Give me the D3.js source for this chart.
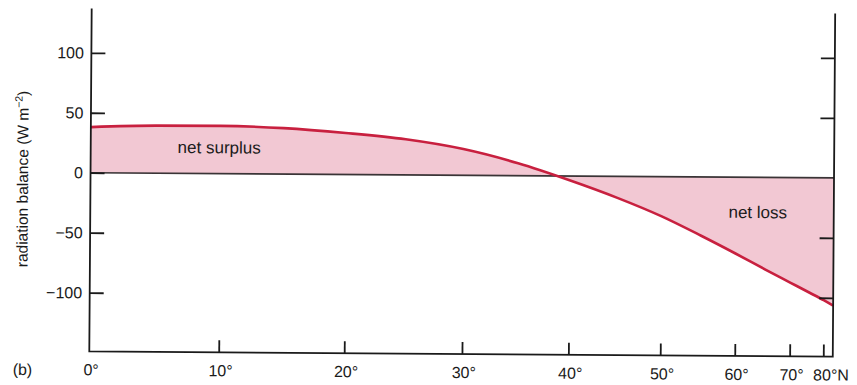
<!DOCTYPE html>
<html>
<head>
<meta charset="utf-8">
<script src="https://cdn.jsdelivr.net/npm/d3@7"></script>
<style>
  html, body { margin: 0; padding: 0; background: #fff; }
  svg { display: block; font-family: "Liberation Sans", Arial, Helvetica, sans-serif; }
</style>
</head>
<body>
<svg id="chart" width="857" height="385"></svg>
<script>
// Latitude (degrees north) and zonal-mean net radiation balance (W m-2)
const latitudes = [0, 5, 10, 15, 20, 25, 30, 35, 40, 45, 50, 55, 60, 65, 70, 75, 80, 86];
const balance   = [38, 39.6, 39.8, 38.3, 34.6, 29.7, 21.9, 10.4, -3.5, -17.9, -32.9, -48.8, -63.6, -76.8, -87.5, -95.9, -102, -106.5];

const xTickValues = [0, 10, 20, 30, 40, 50, 60, 70, 80];
const xTickLabels = ["0°", "10°", "20°", "30°", "40°", "50°", "60°", "70°", "80°N"];
const yTickValues = [100, 50, 0, -50, -100];
const yTickLabels = ["100", "50", "0", "\u221250", "\u2212100"];

const maxLat = 86;
const yDomain = [-149, 137];

const svg = d3.select("#chart");
const g = svg.append("g").attr("transform", "rotate(0.4, 462, 180)");

// Horizontal axis is area-weighted: position proportional to sin(latitude)
const rad = d => d * Math.PI / 180;
const xs = d3.scaleLinear().domain([0, Math.sin(rad(maxLat))]).range([90.5, 834]);
const x = lat => xs(Math.sin(rad(lat)));
const y = d3.scaleLinear().domain(yDomain).range([354, 11]);

const pts = latitudes.map((lat, i) => ({ lat, v: balance[i] }));

// Shaded surplus / deficit between the curve and zero
const area = d3.area()
  .x(d => x(d.lat))
  .y0(y(0))
  .y1(d => y(d.v))
  .curve(d3.curveMonotoneX);

g.append("path")
  .datum(pts)
  .attr("d", area)
  .attr("fill", "#f2c8d3");

// Zero line
g.append("line")
  .attr("x1", x(0)).attr("x2", x(maxLat))
  .attr("y1", y(0)).attr("y2", y(0))
  .attr("stroke", "#3a3436").attr("stroke-width", 1.6);

// Balance curve
const line = d3.line()
  .x(d => x(d.lat))
  .y(d => y(d.v))
  .curve(d3.curveMonotoneX);

g.append("path")
  .datum(pts)
  .attr("d", line)
  .attr("fill", "none")
  .attr("stroke", "#c8203f")
  .attr("stroke-width", 2.6);

// Frame: left, bottom, right axis lines
const x0 = x(0), x1 = x(maxLat), yTop = y(yDomain[1]), yBot = y(yDomain[0]);
const frame = g.append("g").attr("stroke", "#1a1a1a").attr("stroke-width", 1.8).attr("fill", "none");
frame.append("path").attr("d", `M${x0},${yTop}V${yBot}H${x1}V${yTop}`);

// Left ticks (pointing inward) and labels
const leftAxis = d3.axisRight(y)
  .tickValues(yTickValues)
  .tickSize(14)
  .tickFormat("");
const la = g.append("g").attr("transform", `translate(${x0},0)`).call(leftAxis);
la.select(".domain").remove();
la.selectAll("line").attr("stroke", "#1a1a1a").attr("stroke-width", 1.8);

g.selectAll("text.ylab")
  .data(yTickValues)
  .join("text")
  .attr("class", "ylab")
  .attr("x", 83)
  .attr("y", d => y(d))
  .attr("dy", "0.36em")
  .attr("text-anchor", "end")
  .attr("font-size", 16)
  .attr("fill", "#1a1a1a")
  .text((d, i) => yTickLabels[i]);

// Right ticks (pointing inward), none at zero
const rightAxis = d3.axisLeft(y)
  .tickValues(yTickValues.filter(v => v !== 0))
  .tickSize(14)
  .tickFormat("");
const ra = g.append("g").attr("transform", `translate(${x1},0)`).call(rightAxis);
ra.select(".domain").remove();
ra.selectAll("line").attr("stroke", "#1a1a1a").attr("stroke-width", 1.8);

// Bottom ticks (pointing up) and labels
const bottomAxis = d3.axisTop(xs)
  .tickValues(xTickValues.filter(v => v > 0).map(v => Math.sin(rad(v))))
  .tickSize(12)
  .tickFormat("");
const ba = g.append("g").attr("transform", `translate(0,${yBot})`).call(bottomAxis);
ba.select(".domain").remove();
ba.selectAll("line").attr("stroke", "#1a1a1a").attr("stroke-width", 1.8);

g.selectAll("text.xlab")
  .data(xTickValues)
  .join("text")
  .attr("class", "xlab")
  .attr("x", d => d === 80 ? x(d) - 10 : x(d) + 2)
  .attr("y", 378)
  .attr("text-anchor", d => d === 80 ? "start" : "middle")
  .attr("font-size", 16)
  .attr("fill", "#1a1a1a")
  .text((d, i) => xTickLabels[i]);

// Panel label
g.append("text")
  .attr("x", 14).attr("y", 378)
  .attr("font-size", 16)
  .attr("fill", "#1a1a1a")
  .text("(b)");

// Y-axis title with superscript
const yt = g.append("text")
  .attr("transform", "translate(28,182) rotate(-90)")
  .attr("text-anchor", "middle")
  .attr("font-size", 15.5)
  .attr("fill", "#1a1a1a");
yt.append("tspan").text("radiation balance (W m");
yt.append("tspan").attr("font-size", 10.5).attr("dy", -6).text("\u22122");
yt.append("tspan").attr("dy", 6).text(")");

// Region annotations
g.append("text")
  .attr("x", 219).attr("y", 155)
  .attr("text-anchor", "middle")
  .attr("font-size", 17)
  .attr("fill", "#1a1a1a")
  .text("net surplus");

g.append("text")
  .attr("x", 758).attr("y", 216)
  .attr("text-anchor", "middle")
  .attr("font-size", 17)
  .attr("fill", "#1a1a1a")
  .text("net loss");
</script>
</body>
</html>
